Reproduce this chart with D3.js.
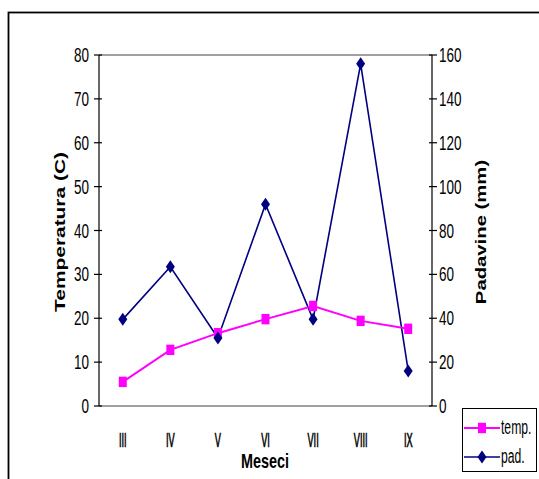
<!DOCTYPE html>
<html>
<head>
<meta charset="utf-8">
<script src="https://cdn.jsdelivr.net/npm/d3@7"></script>
<style>
  html, body { margin: 0; padding: 0; background: #fff; }
  svg { display: block; font-family: "Liberation Sans", Arial, sans-serif; }
</style>
</head>
<body>
<svg id="chart" width="539" height="479"></svg>
<script>
// ---- data ----
const months = ["III", "IV", "V", "VI", "VII", "VIII", "IX"];
const temp = [5.5, 12.8, 16.6, 19.8, 22.8, 19.4, 17.6];
const pad = [39.5, 63.5, 31, 92, 39.5, 156, 16];
const tempTicks = [0, 10, 20, 30, 40, 50, 60, 70, 80];
const padTicks = [0, 20, 40, 60, 80, 100, 120, 140, 160];
const seriesNames = ["temp.", "pad."];

(function () {
const svg = d3.select("#chart");
const SY = 1.45; // vertical stretch of text

// outer frame
svg.append("rect").attr("x", 8.5).attr("y", 12.5).attr("width", 600).attr("height", 600)
  .attr("fill", "none").attr("stroke", "#000").attr("stroke-width", 1.8);

const pL = 99, pR = 432, pT = 55, pB = 406;
const x = d3.scaleBand().domain(months).range([pL, pR]);
const yT = d3.scaleLinear().domain([0, 80]).range([pB, pT]);
const yP = d3.scaleLinear().domain([0, 160]).range([pB, pT]);

// plot area top & bottom grey lines
svg.append("line").attr("x1", pL).attr("x2", pR).attr("y1", pT).attr("y2", pT)
  .attr("stroke", "#808080").attr("stroke-width", 1.5);
svg.append("line").attr("x1", pL).attr("x2", pR).attr("y1", pB).attr("y2", pB)
  .attr("stroke", "#808080").attr("stroke-width", 1.5);

// left axis
svg.append("line").attr("x1", pL).attr("x2", pL).attr("y1", pT).attr("y2", pB)
  .attr("stroke", "#000").attr("stroke-width", 1.2);
svg.append("g").selectAll("line").data(tempTicks).join("line")
  .attr("x1", pL - 5).attr("x2", pL + 3)
  .attr("y1", d => yT(d)).attr("y2", d => yT(d))
  .attr("stroke", "#000").attr("stroke-width", 1.2);
svg.append("g").selectAll("text").data(tempTicks).join("text")
  .attr("transform", d => `translate(89,${yT(d) + 7}) scale(1,${SY})`)
  .attr("text-anchor", "end").attr("font-size", 13.5).attr("fill", "#000")
  .text(d => d);

// right axis
svg.append("line").attr("x1", pR).attr("x2", pR).attr("y1", pT).attr("y2", pB)
  .attr("stroke", "#000").attr("stroke-width", 1.2);
svg.append("g").selectAll("line").data(padTicks).join("line")
  .attr("x1", pR - 3).attr("x2", pR + 5)
  .attr("y1", d => yP(d)).attr("y2", d => yP(d))
  .attr("stroke", "#000").attr("stroke-width", 1.2);
svg.append("g").selectAll("text").data(padTicks).join("text")
  .attr("transform", d => `translate(439,${yP(d) + 7}) scale(1,${SY})`)
  .attr("text-anchor", "start").attr("font-size", 13.5).attr("fill", "#000")
  .text(d => d);

// x labels
svg.append("g").selectAll("text").data(months).join("text")
  .attr("transform", d => `translate(${x(d) + x.bandwidth() / 2},447) scale(0.68,${SY})`)
  .attr("text-anchor", "middle").attr("font-size", 13.5).attr("fill", "#000")
  .attr("stroke", "#000").attr("stroke-width", 0.5)
  .text(d => d);

// axis titles
svg.append("text")
  .attr("transform", `translate(265,468) scale(1.03,${SY})`)
  .attr("text-anchor", "middle").attr("font-size", 14).attr("font-weight", "bold")
  .text("Meseci");
svg.append("text")
  .attr("transform", `translate(65,232) scale(1,${SY * 1.03}) rotate(-90)`)
  .attr("text-anchor", "middle").attr("font-size", 14).attr("font-weight", "bold")
  .text("Temperatura (C)");
svg.append("text")
  .attr("transform", `translate(486,232) scale(1,${SY}) rotate(-90)`)
  .attr("text-anchor", "middle").attr("font-size", 14).attr("font-weight", "bold")
  .text("Padavine (mm)");

const cx = d => x(d) + x.bandwidth() / 2;
const magenta = "#FF00FF", navy = "#000080";

// pad line
svg.append("path").datum(pad)
  .attr("d", d3.line().x((d, i) => cx(months[i])).y(d => yP(d)))
  .attr("fill", "none").attr("stroke", navy).attr("stroke-width", 1.6);
// temp line
svg.append("path").datum(temp)
  .attr("d", d3.line().x((d, i) => cx(months[i])).y(d => yT(d)))
  .attr("fill", "none").attr("stroke", magenta).attr("stroke-width", 2);

// markers
const sq = (g, px, py) => g.append("rect").attr("x", px - 4).attr("y", py - 5.2)
  .attr("width", 8).attr("height", 10.4).attr("fill", magenta);
const dia = (g, px, py) => g.append("path")
  .attr("d", `M${px},${py - 6.5}L${px + 4.5},${py}L${px},${py + 6.5}L${px - 4.5},${py}Z`)
  .attr("fill", navy);

const gT = svg.append("g");
temp.forEach((v, i) => sq(gT, cx(months[i]), yT(v)));
const gP = svg.append("g");
pad.forEach((v, i) => dia(gP, cx(months[i]), yP(v)));

// legend
const lg = svg.append("g");
lg.append("rect").attr("x", 462.5).attr("y", 408.5).attr("width", 74).attr("height", 63)
  .attr("fill", "#fff").attr("stroke", "#000").attr("stroke-width", 1);
const ly = [428, 457];
lg.append("line").attr("x1", 464).attr("x2", 500).attr("y1", ly[0]).attr("y2", ly[0])
  .attr("stroke", magenta).attr("stroke-width", 2);
sq(lg, 482, ly[0]);
lg.append("line").attr("x1", 464).attr("x2", 500).attr("y1", ly[1]).attr("y2", ly[1])
  .attr("stroke", navy).attr("stroke-width", 1.6);
dia(lg, 482, ly[1]);
lg.selectAll("text.leg").data(seriesNames).join("text").attr("class", "leg")
  .attr("transform", (d, i) => `translate(501,${ly[i] + 6}) scale(0.9,${SY})`)
  .attr("font-size", 13.5).text(d => d);
})();
</script>
</body>
</html>
